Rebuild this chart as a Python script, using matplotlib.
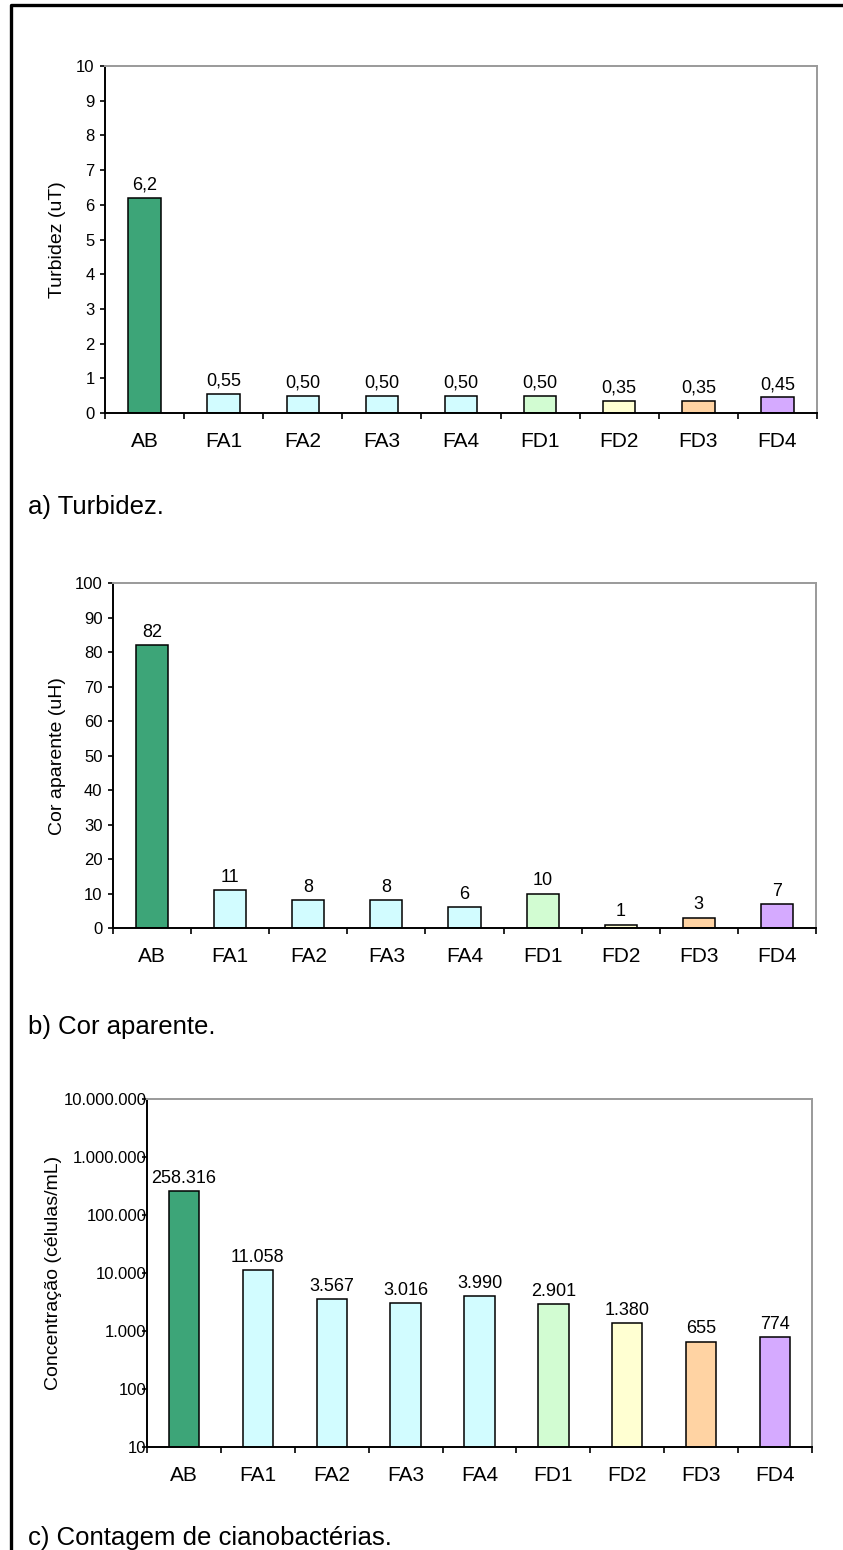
#!/usr/bin/env python3
"""
Water quality after filtration: turbidity, apparent colour and
cyanobacteria count for raw water (AB) and the eight filters.
Writes out.png.
"""

import matplotlib
matplotlib.use("Agg")
import matplotlib.pyplot as plt
from matplotlib.lines import Line2D
from matplotlib.ticker import FixedLocator, FuncFormatter, NullFormatter

plt.rcParams["font.family"] = ["Liberation Sans", "DejaVu Sans"]

W, H = 843, 1550

CATEGORIES = ["AB", "FA1", "FA2", "FA3", "FA4", "FD1", "FD2", "FD3", "FD4"]
COLORS = ["#3DA578", "#D2FCFF", "#D2FCFF", "#D2FCFF", "#D2FCFF",
          "#D2FCD2", "#FFFFD2", "#FFD3A3", "#D5AAFF"]

turbidez = [6.2, 0.55, 0.50, 0.50, 0.50, 0.50, 0.35, 0.35, 0.45]
cor_aparente = [82, 11, 8, 8, 6, 10, 1, 3, 7]
cianobacterias = [258316, 11058, 3567, 3016, 3990, 2901, 1380, 655, 774]


def fmt_decimal(v):
    s = f"{v:.1f}" if v >= 1 else f"{v:.2f}"
    return s.replace(".", ",")


def fmt_thousands(v):
    return f"{int(round(v)):,}".replace(",", ".")


def px_axes(fig, left, top, right, bottom):
    return fig.add_axes([left / W, 1 - bottom / H,
                         (right - left) / W, (bottom - top) / H])


def style_axes(ax, ylabel_pad):
    n = len(CATEGORIES)
    for side in ("top", "right"):
        ax.spines[side].set_color("#9A9A9A")
        ax.spines[side].set_linewidth(1.4)
    for side in ("left", "bottom"):
        ax.spines[side].set_color("black")
        ax.spines[side].set_linewidth(1.4)
    ax.set_xlim(-0.5, n - 0.5)
    # ticks sit between categories, labels under each bar
    ax.xaxis.set_major_locator(FixedLocator([i - 0.5 for i in range(n + 1)]))
    ax.xaxis.set_major_formatter(NullFormatter())
    ax.xaxis.set_minor_locator(FixedLocator(range(n)))
    ax.set_xticklabels(CATEGORIES, minor=True)
    ax.tick_params(axis="x", which="major", direction="out", length=4.5, width=1.2)
    ax.tick_params(axis="x", which="minor", length=0, pad=14, labelsize=15)
    ax.tick_params(axis="y", which="major", direction="out", length=3.5, width=1.2,
                   pad=ylabel_pad, labelsize=12)
    ax.tick_params(axis="y", which="minor", length=0)


def draw_bars(ax, values, fmt):
    x = range(len(values))
    ax.bar(x, values, width=0.41, color=COLORS, edgecolor="black",
           linewidth=1.1, zorder=2)
    for i, v in zip(x, values):
        ax.annotate(fmt(v), (i, v), xytext=(0, 3), textcoords="offset points",
                    ha="center", va="bottom", fontsize=13)


fig = plt.figure(figsize=(W / 100, H / 100), dpi=100)

# a) turbidity
ax_a = px_axes(fig, 105, 66, 817, 413)
draw_bars(ax_a, turbidez, fmt_decimal)
ax_a.set_ylim(0, 10)
ax_a.set_yticks(range(0, 11))
style_axes(ax_a, 4)
fig.text(57 / W, 1 - 240 / H, "Turbidez (uT)", rotation=90,
         ha="center", va="center", fontsize=14)
fig.text(28 / W, 1 - 507 / H, "a) Turbidez.", ha="left", va="center", fontsize=18.5)

# b) apparent colour
ax_b = px_axes(fig, 113, 583, 816, 928)
draw_bars(ax_b, cor_aparente, lambda v: f"{v:d}")
ax_b.set_ylim(0, 100)
ax_b.set_yticks(range(0, 101, 10))
style_axes(ax_b, 4)
fig.text(57 / W, 1 - 756 / H, "Cor aparente (uH)", rotation=90,
         ha="center", va="center", fontsize=14)
fig.text(28 / W, 1 - 1027 / H, "b) Cor aparente.", ha="left", va="center", fontsize=18.5)

# c) cyanobacteria count, log scale
ax_c = px_axes(fig, 147, 1099, 812, 1447)
ax_c.set_yscale("log")
draw_bars(ax_c, cianobacterias, fmt_thousands)
ax_c.set_ylim(10, 1e7)
ax_c.set_yticks([10 ** k for k in range(1, 8)])
ax_c.yaxis.set_major_formatter(FuncFormatter(lambda v, _: fmt_thousands(v)))
ax_c.yaxis.set_minor_formatter(NullFormatter())
style_axes(ax_c, -3)
fig.text(53 / W, 1 - 1273 / H, "Concentração (células/mL)", rotation=90,
         ha="center", va="center", fontsize=14)
fig.text(28 / W, 1 - 1538 / H, "c) Contagem de cianobactérias.", ha="left",
         va="center", fontsize=18.5)

# page frame, only the left and top edges fall inside the image
x0, y0 = 11 / W, 1 - 5 / H
fig.add_artist(Line2D([x0, x0, 1.02], [-0.02, y0, y0], transform=fig.transFigure,
                      color="black", linewidth=2.4))

fig.savefig("out.png", dpi=100, facecolor="white")
